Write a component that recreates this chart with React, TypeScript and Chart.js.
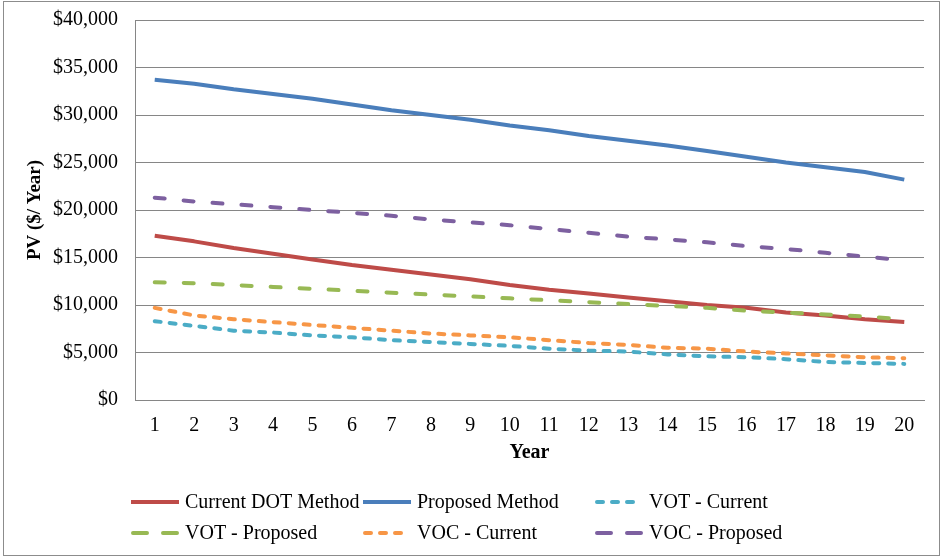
import React, { useEffect, useRef } from "react";
import { Chart, registerables } from "chart.js";

Chart.register(...registerables);

const years = ["1","2","3","4","5","6","7","8","9","10","11","12","13","14","15","16","17","18","19","20"];
const currentDOT = [17300,16700,16000,15400,14800,14200,13700,13200,12700,12100,11600,11200,10800,10400,10000,9700,9200,8900,8500,8200];
const proposedMethod = [33700,33300,32700,32200,31700,31100,30500,30000,29500,28900,28400,27800,27300,26800,26200,25600,25000,24500,24000,23200];
const votCurrent = [8300,7800,7300,7100,6800,6600,6300,6100,5900,5700,5400,5200,5100,4800,4600,4500,4300,4000,3900,3800];
const votProposed = [12400,12300,12100,11900,11700,11500,11300,11100,10900,10700,10500,10300,10100,9900,9700,9400,9200,9000,8800,8500];
const vocCurrent = [9700,8900,8500,8200,7900,7600,7300,7000,6800,6600,6300,6000,5800,5500,5400,5100,4900,4700,4500,4400];
const vocProposed = [21300,20900,20600,20300,20000,19700,19400,19000,18700,18400,18000,17600,17200,16900,16600,16200,15900,15500,15100,14700];

const seriesNames = ["Current DOT Method","Proposed Method","VOT - Current","VOT - Proposed","VOC - Current","VOC - Proposed"];
const seriesColors = ["#BE4B48","#4A7EBB","#4BACC6","#98B954","#F79646","#7D60A0"];
const seriesStyles = ["solid","solid","short","long","short","long"];

const FONT = "'Liberation Serif', 'Times New Roman', serif";
const SHORT_DASH = [6, 9];
const LONG_DASH = [10, 19];

const frame = {
  id: "frame",
  beforeDraw(chart: any) {
    const ctx = chart.ctx;
    ctx.save();
    ctx.fillStyle = "#ffffff";
    ctx.fillRect(0, 0, chart.width, chart.height);
    ctx.strokeStyle = "#8c8c8c";
    ctx.lineWidth = 1;
    ctx.strokeRect(3.5, 1.5, 936, 554);
    ctx.restore();
  },
};

const customLegend = {
  id: "customLegend",
  afterDraw(chart: any) {
    const ctx = chart.ctx;
    const colX = [131, 363, 595];
    const rowY = [502, 533];
    ctx.save();
    chart.data.datasets.forEach((ds: any, i: number) => {
      const x = colX[i % 3];
      const y = rowY[Math.floor(i / 3)];
      const style = seriesStyles[i];
      ctx.strokeStyle = ds.borderColor;
      ctx.lineWidth = 4;
      if (style === "solid") {
        ctx.setLineDash([]);
        ctx.lineCap = "butt";
        ctx.beginPath();
        ctx.moveTo(x, y);
        ctx.lineTo(x + 48, y);
        ctx.stroke();
      } else if (style === "short") {
        ctx.setLineDash([6, 9]);
        ctx.lineCap = "round";
        ctx.beginPath();
        ctx.moveTo(x + 2, y);
        ctx.lineTo(x + 40, y);
        ctx.stroke();
      } else {
        ctx.setLineDash([14, 16]);
        ctx.lineCap = "round";
        ctx.beginPath();
        ctx.moveTo(x + 2, y);
        ctx.lineTo(x + 46, y);
        ctx.stroke();
      }
      ctx.setLineDash([]);
      ctx.fillStyle = "#000000";
      ctx.font = `20px ${FONT}`;
      ctx.textBaseline = "middle";
      ctx.textAlign = "left";
      ctx.fillText(ds.label, x + 54, y + 1);
    });
    ctx.restore();
  },
};

export default function App() {
  const canvasRef = useRef<HTMLCanvasElement | null>(null);

  useEffect(() => {
    if (!canvasRef.current) return;
    const values = [currentDOT, proposedMethod, votCurrent, votProposed, vocCurrent, vocProposed];
    const datasets = values.map((d, i) => ({
      label: seriesNames[i],
      data: d,
      borderColor: seriesColors[i],
      backgroundColor: seriesColors[i],
      borderWidth: 4,
      pointRadius: 0,
      pointHoverRadius: 0,
      fill: false,
      tension: 0,
      order: 6 - i,
      borderDash: seriesStyles[i] === "short" ? SHORT_DASH : seriesStyles[i] === "long" ? LONG_DASH : [],
      borderCapStyle: seriesStyles[i] === "solid" ? "butt" : "round",
      borderJoinStyle: "round",
    }));

    const chart = new Chart(canvasRef.current, {
      type: "line",
      data: { labels: years, datasets: datasets as any },
      plugins: [frame, customLegend],
      options: {
        animation: false,
        responsive: false,
        maintainAspectRatio: false,
        layout: { padding: { left: 0, top: 20, right: 19, bottom: 93 } },
        plugins: {
          legend: { display: false },
          tooltip: { enabled: false },
        },
        scales: {
          x: {
            offset: true,
            grid: { display: false, drawTicks: false },
            border: { display: true, color: "#868686", width: 1 },
            ticks: {
              color: "#000",
              font: { family: FONT, size: 20 },
              padding: 14,
              maxRotation: 0,
              autoSkip: false,
            },
            title: {
              display: true,
              text: "Year",
              color: "#000",
              font: { family: FONT, size: 20, weight: "bold" },
              padding: { top: 0, bottom: 0 },
            },
            afterFit(scale: any) {
              scale.height = 65;
            },
          },
          y: {
            min: 0,
            max: 40000,
            grid: {
              color: "#868686",
              lineWidth: 1,
              drawTicks: true,
              tickLength: 17,
              tickColor: "rgba(0,0,0,0)",
            },
            border: { display: true, color: "#868686", width: 1 },
            ticks: {
              stepSize: 5000,
              color: "#000",
              font: { family: FONT, size: 20 },
              padding: 0,
              callback: (v: any) => "$" + Number(v).toLocaleString("en-US"),
            },
            title: {
              display: true,
              text: "PV ($/ Year)",
              color: "#000",
              font: { family: FONT, size: 19, weight: "bold" },
              padding: { top: 24, bottom: 0 },
            },
            afterFit(scale: any) {
              scale.width = 135;
            },
          },
        },
      } as any,
    });
    return () => chart.destroy();
  }, []);

  return (
    <div style={{ position: "absolute", left: 0, top: 0, width: 943, height: 558 }}>
      <canvas ref={canvasRef} width={943} height={558} style={{ width: 943, height: 558, display: "block" }} />
    </div>
  );
}
